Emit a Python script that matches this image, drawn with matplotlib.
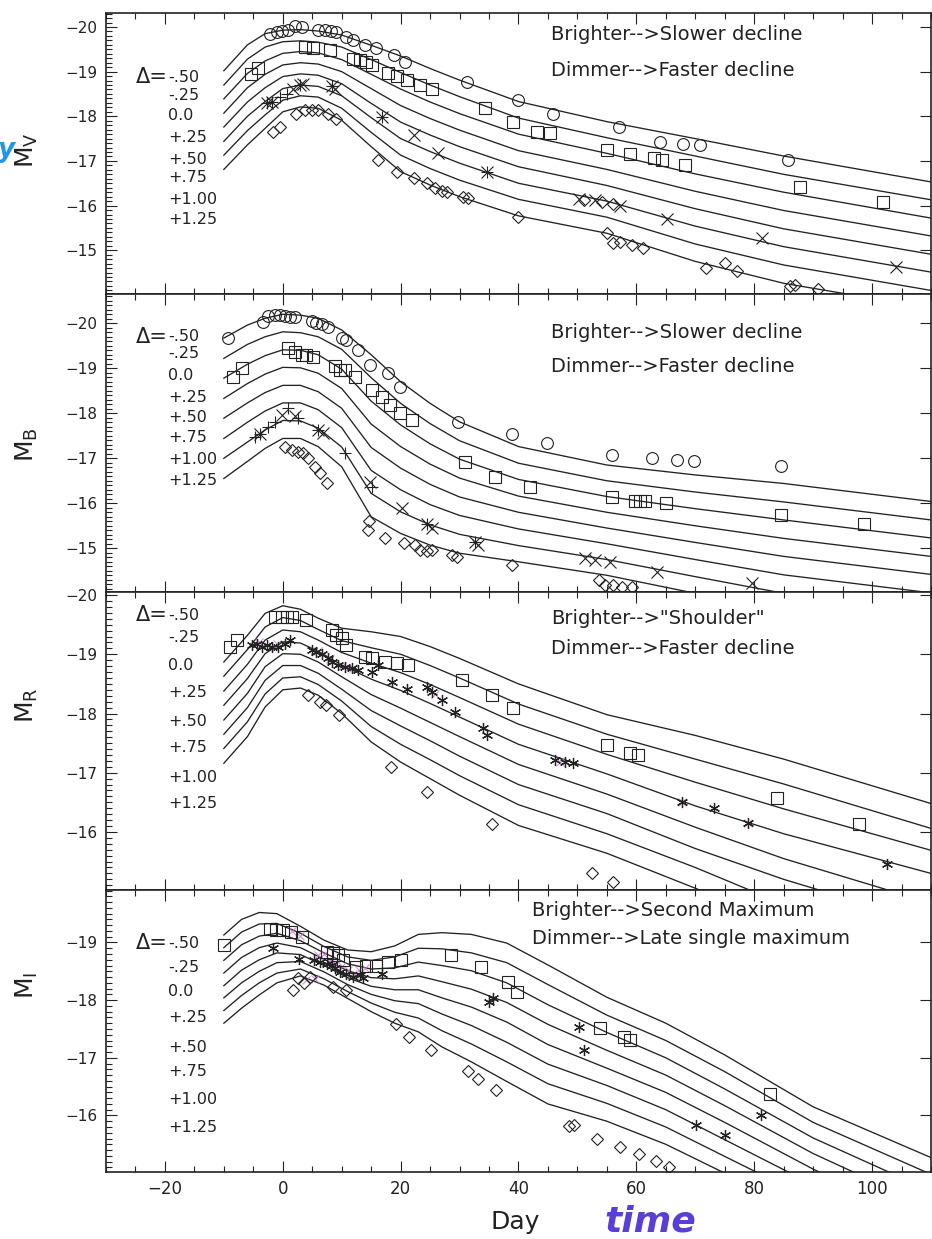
import matplotlib
matplotlib.use("Agg")
import matplotlib.pyplot as plt
from matplotlib.ticker import MultipleLocator

plt.rcParams["font.family"] = ["DejaVu Sans"]
plt.rcParams["axes.unicode_minus"] = True

W, H = 932, 1239
INK = "#222222"
DELTAS = ["-.50", "-.25", "0.0", "+.25", "+.50", "+.75", "+1.00", "+1.25"]

# ---------------- V band ----------------
v_days = [-10, -6, -3, 0, 3, 6, 10, 15, 20, 25, 30, 40, 55, 70, 85, 110]
v_curves = [
    [-19.02, -19.60, -19.85, -19.93, -19.94, -19.91, -19.82, -19.59, -19.35, -19.07, -18.81, -18.33, -17.88, -17.50, -17.11, -16.53],
    [-18.70, -19.28, -19.55, -19.67, -19.69, -19.66, -19.55, -19.27, -18.98, -18.70, -18.44, -17.96, -17.52, -17.11, -16.70, -16.13],
    [-18.39, -18.96, -19.24, -19.41, -19.45, -19.42, -19.27, -18.94, -18.61, -18.32, -18.06, -17.60, -17.17, -16.71, -16.30, -15.72],
    [-18.07, -18.64, -18.94, -19.15, -19.20, -19.17, -19.00, -18.62, -18.24, -17.95, -17.69, -17.23, -16.81, -16.32, -15.89, -15.32],
    [-17.76, -18.32, -18.64, -18.89, -18.95, -18.92, -18.73, -18.29, -17.87, -17.58, -17.32, -16.87, -16.45, -15.93, -15.48, -14.91],
    [-17.44, -18.00, -18.33, -18.62, -18.70, -18.67, -18.46, -17.97, -17.50, -17.21, -16.95, -16.50, -16.10, -15.54, -15.08, -14.51],
    [-17.13, -17.68, -18.03, -18.36, -18.46, -18.43, -18.18, -17.64, -17.13, -16.83, -16.57, -16.14, -15.74, -15.14, -14.67, -14.10],
    [-16.81, -17.36, -17.73, -18.10, -18.21, -18.18, -17.91, -17.32, -16.76, -16.46, -16.20, -15.77, -15.38, -14.75, -14.26, -13.70],
]
v_circ = [(-2.2, -19.85), (-1.0, -19.89), (-0.1, -19.91), (0.9, -19.94), (2.1, -20.02), (3.2, -20.00),
          (6.0, -19.94), (7.2, -19.93), (8.1, -19.91), (9.0, -19.88), (10.8, -19.78), (12.0, -19.70),
          (13.9, -19.59), (15.9, -19.52), (18.8, -19.37), (20.7, -19.22), (31.2, -18.77), (40.0, -18.36),
          (45.9, -18.06), (57.0, -17.76), (64.0, -17.43), (68.0, -17.39), (70.8, -17.35), (85.8, -17.02)]
v_sq = [(-5.4, -18.95), (-4.2, -19.08), (3.8, -19.55), (5.2, -19.52), (8.0, -19.48), (12.0, -19.29),
        (13.1, -19.27), (14.2, -19.22), (15.1, -19.15), (17.9, -18.96), (19.3, -18.90), (21.0, -18.81),
        (23.3, -18.70), (25.3, -18.62), (34.3, -18.18), (39.1, -17.88), (43.1, -17.65), (45.4, -17.62),
        (55.0, -17.24), (59.0, -17.15), (63.0, -17.06), (64.4, -17.02), (68.3, -16.91), (87.8, -16.41),
        (101.9, -16.09)]
v_x = [(-2.7, -18.29), (-1.9, -18.33), (1.8, -18.62), (2.9, -18.70), (3.5, -18.73), (8.3, -18.67),
       (8.8, -18.62), (16.8, -17.99), (22.2, -17.58), (26.4, -17.17), (34.6, -16.76), (50.2, -16.14),
       (53.0, -16.12), (57.2, -15.99), (65.2, -15.71), (81.3, -15.27), (104.0, -14.63)]
v_plus = [(-2.7, -18.29), (-1.9, -18.33), (-0.5, -18.44), (0.65, -18.51), (2.9, -18.70), (8.3, -18.67),
          (16.8, -17.99), (34.6, -16.76)]
v_dia = [(-1.6, -17.65), (-0.5, -17.77), (2.3, -18.06), (3.8, -18.15), (4.9, -18.14), (6.0, -18.14),
         (7.7, -18.06), (9.1, -17.95), (16.2, -17.02), (19.3, -16.76), (22.2, -16.61), (24.4, -16.50),
         (25.8, -16.39), (27.0, -16.33), (27.8, -16.31), (30.6, -16.20), (31.5, -16.16), (40.0, -15.75),
         (51.2, -16.13), (54.1, -16.09), (56.1, -16.04), (55.0, -15.38), (56.1, -15.17), (57.3, -15.19),
         (59.2, -15.12), (61.2, -15.04), (71.9, -14.60), (75.0, -14.71), (77.0, -14.54), (86.1, -14.19),
         (86.9, -14.22), (90.9, -14.13)]

# ---------------- B band ----------------
b_days = [-10, -6, -3, 0, 3, 6, 10, 15, 20, 25, 30, 40, 55, 70, 85, 110]
b_curves = [
    [-19.67, -19.96, -20.11, -20.20, -20.18, -20.11, -19.85, -19.30, -18.70, -18.22, -17.81, -17.26, -16.85, -16.63, -16.44, -16.04],
    [-19.22, -19.53, -19.70, -19.81, -19.79, -19.70, -19.42, -18.79, -18.22, -17.77, -17.39, -16.89, -16.50, -16.25, -16.03, -15.63],
    [-18.78, -19.09, -19.28, -19.41, -19.40, -19.30, -18.98, -18.27, -17.74, -17.32, -16.98, -16.53, -16.15, -15.88, -15.63, -15.23],
    [-18.33, -18.66, -18.87, -19.02, -19.01, -18.89, -18.55, -17.76, -17.26, -16.87, -16.56, -16.16, -15.80, -15.50, -15.22, -14.82],
    [-17.89, -18.23, -18.46, -18.62, -18.62, -18.48, -18.11, -17.24, -16.78, -16.42, -16.14, -15.80, -15.45, -15.13, -14.82, -14.42],
    [-17.44, -17.80, -18.05, -18.23, -18.23, -18.08, -17.68, -16.73, -16.30, -15.97, -15.73, -15.43, -15.10, -14.75, -14.41, -14.01],
    [-17.00, -17.36, -17.63, -17.84, -17.83, -17.67, -17.25, -16.22, -15.81, -15.52, -15.31, -15.06, -14.75, -14.37, -14.00, -13.60],
    [-16.55, -16.93, -17.22, -17.44, -17.44, -17.26, -16.81, -15.70, -15.33, -15.07, -14.89, -14.70, -14.40, -14.00, -13.60, -13.20],
]
b_circ = [(-9.25, -19.67), (-3.3, -20.02), (-2.5, -20.16), (-1.3, -20.18), (-0.5, -20.18), (0.4, -20.16),
          (1.2, -20.15), (2.1, -20.13), (4.9, -20.04), (5.7, -20.01), (6.6, -19.98), (7.7, -19.91),
          (10.0, -19.67), (10.8, -19.63), (12.8, -19.41), (14.8, -19.07), (17.9, -18.89), (19.9, -18.59),
          (29.8, -17.81), (38.9, -17.55), (44.8, -17.33), (55.8, -17.07), (62.7, -17.00), (66.9, -16.96),
          (69.8, -16.93), (84.6, -16.83)]
b_sq = [(-8.4, -18.81), (-7.0, -19.00), (0.9, -19.44), (2.1, -19.37), (3.2, -19.30), (4.0, -19.30),
        (5.2, -19.26), (8.9, -19.04), (9.7, -18.96), (10.6, -18.96), (12.3, -18.81), (15.1, -18.52),
        (16.8, -18.37), (18.2, -18.18), (19.9, -18.00), (21.9, -17.85), (30.9, -16.92), (36.0, -16.59),
        (41.9, -16.37), (55.8, -16.13), (59.7, -16.04), (60.6, -16.04), (61.5, -16.04), (65.0, -16.01),
        (84.6, -15.74), (98.7, -15.53)]
b_x = [(-3.9, -17.55), (-0.2, -17.96), (2.1, -17.93), (6.0, -17.63), (6.9, -17.56), (14.8, -16.48),
       (20.2, -15.89), (24.4, -15.55), (25.3, -15.44), (32.6, -15.15), (33.2, -15.08), (51.3, -14.78),
       (53.0, -14.74), (55.6, -14.70), (63.5, -14.48), (79.6, -14.22)]
b_plus = [(-4.7, -17.48), (-3.9, -17.55), (-2.5, -17.70), (-1.3, -17.81), (0.9, -18.11), (2.6, -17.89),
          (6.0, -17.63), (10.6, -17.11), (15.1, -16.37), (24.4, -15.55), (32.6, -15.15)]
b_dia = [(0.4, -17.26), (1.5, -17.19), (2.6, -17.15), (3.5, -17.11), (4.3, -17.00), (5.5, -16.81),
         (6.3, -16.67), (7.5, -16.44), (14.5, -15.41), (14.6, -15.60), (17.3, -15.22), (20.5, -15.11),
         (22.4, -15.07), (23.3, -14.96), (24.4, -14.93), (25.3, -14.96), (28.7, -14.85), (29.5, -14.81),
         (38.9, -14.63), (53.6, -14.30), (54.7, -14.19), (56.1, -14.19), (57.5, -14.15), (59.2, -14.15)]

# ---------------- R band ----------------
r_days = [-10, -6, -3, 0, 3, 6, 10, 15, 20, 25, 30, 40, 55, 70, 85, 110]
r_curves = [
    [-18.87, -19.32, -19.69, -19.82, -19.76, -19.61, -19.44, -19.38, -19.30, -19.13, -18.93, -18.50, -17.98, -17.63, -17.23, -16.48],
    [-18.63, -19.08, -19.46, -19.62, -19.57, -19.42, -19.23, -19.11, -19.00, -18.81, -18.60, -18.16, -17.65, -17.23, -16.81, -16.06],
    [-18.38, -18.83, -19.24, -19.41, -19.38, -19.24, -19.03, -18.85, -18.69, -18.49, -18.27, -17.82, -17.31, -16.84, -16.39, -15.69],
    [-18.14, -18.59, -19.01, -19.21, -19.19, -19.05, -18.82, -18.58, -18.39, -18.17, -17.94, -17.48, -16.98, -16.44, -15.97, -15.30],
    [-17.89, -18.34, -18.79, -19.01, -19.00, -18.87, -18.62, -18.32, -18.09, -17.85, -17.61, -17.14, -16.64, -16.08, -15.55, -14.80],
    [-17.65, -18.10, -18.56, -18.81, -18.81, -18.68, -18.41, -18.05, -17.79, -17.54, -17.28, -16.80, -16.31, -15.72, -15.20, -14.45],
    [-17.41, -17.86, -18.33, -18.60, -18.62, -18.49, -18.21, -17.78, -17.48, -17.22, -16.95, -16.46, -15.97, -15.40, -14.78, -14.05],
    [-17.16, -17.61, -18.11, -18.40, -18.43, -18.31, -18.00, -17.52, -17.18, -16.90, -16.62, -16.11, -15.64, -15.05, -14.45, -13.65],
]
r_sq = [(-9.0, -19.13), (-7.8, -19.24), (-1.3, -19.63), (-0.2, -19.63), (0.65, -19.63), (1.5, -19.63),
        (4.0, -19.58), (8.3, -19.41), (9.1, -19.32), (10.0, -19.27), (10.8, -19.16), (14.0, -18.96),
        (15.1, -18.93), (17.4, -18.87), (19.3, -18.85), (21.3, -18.82), (30.4, -18.56), (35.5, -18.31),
        (39.1, -18.09), (55.0, -17.47), (58.9, -17.33), (60.3, -17.30), (83.8, -16.58), (97.7, -16.14)]
r_ast = [(-5.3, -19.16), (-4.4, -19.18), (-3.6, -19.13), (-2.7, -19.16), (-1.9, -19.13), (-0.8, -19.13),
         (0.4, -19.18), (1.2, -19.24), (4.9, -19.07), (5.7, -19.04), (6.6, -19.01), (7.7, -18.93),
         (8.3, -18.87), (9.4, -18.82), (10.6, -18.79), (11.7, -18.77), (12.8, -18.73), (15.1, -18.70),
         (16.2, -18.82), (18.5, -18.54), (21.0, -18.42), (24.4, -18.45), (25.3, -18.37), (27.0, -18.23),
         (29.2, -18.03), (34.0, -17.75), (34.6, -17.64), (46.2, -17.21), (47.9, -17.18), (49.3, -17.16),
         (67.8, -16.51), (73.1, -16.41), (79.0, -16.15), (102.5, -15.46)]
r_dia = [(4.3, -18.31), (6.3, -18.20), (7.4, -18.15), (9.5, -17.97), (18.4, -17.10), (24.4, -16.67),
         (35.5, -16.13), (52.4, -15.30), (56.1, -15.16)]
r_tint = [(-4.0, -19.20), (-1.0, -19.18), (6.0, -19.05), (8.0, -18.92), (10.0, -18.80), (12.0, -18.76),
          (25.8, -18.33), (47.0, -17.18), (67.8, -16.51), (79.0, -16.15)]

# ---------------- I band ----------------
i_days = [-10, -7, -4, -1, 3, 7, 11, 15, 19, 23, 27, 32, 38, 45, 55, 65, 75, 90, 110]
i_curves = [
    [-19.13, -19.40, -19.52, -19.50, -19.28, -19.04, -18.87, -18.84, -18.94, -19.14, -19.17, -19.14, -18.99, -18.61, -18.05, -17.60, -17.05, -16.15, -15.27],
    [-18.91, -19.18, -19.32, -19.33, -19.16, -18.93, -18.75, -18.69, -18.75, -18.90, -18.89, -18.82, -18.65, -18.27, -17.74, -17.30, -16.76, -15.88, -14.98],
    [-18.69, -18.96, -19.11, -19.16, -19.03, -18.82, -18.63, -18.54, -18.56, -18.66, -18.60, -18.51, -18.30, -17.92, -17.44, -17.00, -16.46, -15.61, -14.69],
    [-18.47, -18.74, -18.91, -18.99, -18.91, -18.71, -18.51, -18.39, -18.37, -18.42, -18.32, -18.19, -17.96, -17.58, -17.13, -16.70, -16.17, -15.34, -14.40],
    [-18.25, -18.52, -18.70, -18.82, -18.79, -18.60, -18.39, -18.24, -18.18, -18.18, -18.04, -17.88, -17.62, -17.23, -16.82, -16.40, -15.88, -15.07, -14.11],
    [-18.04, -18.30, -18.50, -18.65, -18.67, -18.49, -18.27, -18.10, -17.99, -17.94, -17.76, -17.56, -17.27, -16.89, -16.52, -16.10, -15.58, -14.80, -13.82],
    [-17.82, -18.08, -18.30, -18.47, -18.54, -18.37, -18.15, -17.95, -17.79, -17.69, -17.47, -17.24, -16.93, -16.55, -16.21, -15.80, -15.29, -14.53, -13.53],
    [-17.60, -17.86, -18.09, -18.30, -18.42, -18.26, -18.03, -17.80, -17.60, -17.45, -17.19, -16.93, -16.59, -16.20, -15.90, -15.50, -15.00, -14.26, -13.24],
]
i_sq = [(-10.0, -18.95), (-2.2, -19.24), (-1.1, -19.22), (0.0, -19.21), (1.4, -19.18), (3.3, -19.10),
        (7.5, -18.84), (8.6, -18.81), (9.4, -18.78), (10.3, -18.69), (12.5, -18.58), (14.2, -18.59),
        (15.8, -18.59), (17.8, -18.66), (20.0, -18.69), (28.6, -18.78), (33.6, -18.58), (38.2, -18.32),
        (39.8, -18.14), (53.9, -17.51), (57.9, -17.36), (59.0, -17.31), (82.6, -16.38)]
i_ast = [(-1.7, -18.90), (2.8, -18.72), (5.3, -18.69), (6.4, -18.66), (7.5, -18.63), (8.3, -18.61),
         (8.9, -18.55), (9.7, -18.49), (10.8, -18.46), (11.9, -18.40), (13.1, -18.43), (13.6, -18.38),
         (16.9, -18.46), (35.0, -17.97), (35.6, -18.03), (50.2, -17.54), (51.1, -17.13), (70.1, -15.83),
         (75.1, -15.66), (81.2, -16.01)]
i_dia = [(1.7, -18.17), (2.5, -18.38), (3.6, -18.29), (4.7, -18.41), (8.6, -18.23), (10.8, -18.17),
         (19.2, -17.58), (21.4, -17.36), (25.2, -17.14), (31.4, -16.78), (33.1, -16.64), (36.1, -16.44),
         (48.5, -15.81), (49.4, -15.84), (53.3, -15.60), (57.3, -15.46), (60.5, -15.34), (63.3, -15.21),
         (65.6, -15.11)]
i_tint = [(1.5, -19.20), (3.0, -19.12), (4.0, -18.35), (5.5, -18.36), (6.0, -18.78), (7.0, -18.80),
          (8.0, -18.70), (9.0, -18.62), (10.0, -18.60), (11.0, -18.52), (12.0, -18.46), (13.0, -18.52),
          (14.0, -18.55)]

notes = [
    ["Brighter-->Slower decline", "Dimmer-->Faster decline"],
    ["Brighter-->Slower decline", "Dimmer-->Faster decline"],
    ["Brighter-->\"Shoulder\"", "Dimmer-->Faster decline"],
    ["Brighter-->Second Maximum", "Dimmer-->Late single maximum"],
]
ylabels = [r"$\mathregular{M_V}$", r"$\mathregular{M_B}$", r"$\mathregular{M_R}$", r"$\mathregular{M_I}$"]

# layout (pixels)
panel_px = [(12.7, 294), (294, 591.5), (591.5, 890), (890, 1172)]
ylims = [(-14.02, -20.32), (-14.04, -20.65), (-15.02, -20.06), (-15.02, -19.91)]
yticks = [[-20, -19, -18, -17, -16, -15], [-20, -19, -18, -17, -16, -15],
          [-20, -19, -18, -17, -16], [-19, -18, -17, -16]]
note_y = [(35, 70), (332, 367), (618, 648), (910, 939)]
note_x = [551, 551, 551, 532]
delta_y = [[77, 95, 115, 137, 159, 178, 200, 220],
           [337, 354, 375, 397, 418, 437, 460, 480],
           [615, 637, 665, 693, 722, 747, 777, 803],
           [943, 967, 992, 1018, 1048, 1072, 1100, 1127]]
ylabel_y = [150, 445, 705, 985]

bands = [
    dict(days=v_days, curves=v_curves, circ=v_circ, sq=v_sq, x=v_x, plus=v_plus, dia=v_dia),
    dict(days=b_days, curves=b_curves, circ=b_circ, sq=b_sq, x=b_x, plus=b_plus, dia=b_dia),
    dict(days=r_days, curves=r_curves, sq=r_sq, ast=r_ast, dia=r_dia, tint=r_tint),
    dict(days=i_days, curves=i_curves, sq=i_sq, ast=i_ast, dia=i_dia, tint=i_tint),
]

fig = plt.figure(figsize=(W / 100, H / 100), dpi=100)
L, R = 106, 931


def fx(px):
    return px / W


def fy(py):
    return 1 - py / H


def pts(lst):
    return [p[0] for p in lst], [p[1] for p in lst]


for k, band in enumerate(bands):
    top, bot = panel_px[k]
    ax = fig.add_axes([fx(L), fy(bot), (R - L) / W, (bot - top) / H])
    for row in band["curves"]:
        ax.plot(band["days"], row, color=INK, lw=0.95)
    mk = dict(ls="none", mfc="none", mec=INK)
    if "tint" in band:
        d, m = pts(band["tint"])
        ax.plot(d, m, marker="x", ms=6, mew=0.8, ls="none", color="#c77ac7", alpha=0.8)
    if "circ" in band:
        d, m = pts(band["circ"])
        ax.plot(d, m, marker="o", ms=8.5, mew=0.8, **mk)
    if "sq" in band:
        d, m = pts(band["sq"])
        ax.plot(d, m, marker="s", ms=8.5, mew=0.8, **mk)
    if "x" in band:
        d, m = pts(band["x"])
        ax.plot(d, m, marker="x", ms=8.5, mew=0.8, **mk)
    if "plus" in band:
        d, m = pts(band["plus"])
        ax.plot(d, m, marker="+", ms=9, mew=0.8, **mk)
    if "ast" in band:
        d, m = pts(band["ast"])
        ax.plot(d, m, marker=(6, 2, 0), ms=8, mew=0.9, **mk)
    if "dia" in band:
        d, m = pts(band["dia"])
        ax.plot(d, m, marker="D", ms=6, mew=0.8, **mk)

    ax.set_xlim(-30, 110)
    ax.set_ylim(*ylims[k])
    ax.set_yticks(yticks[k])
    ax.set_yticklabels(["\u2212%d" % abs(t) for t in yticks[k]], fontsize=11, color=INK)
    ax.yaxis.set_minor_locator(MultipleLocator(0.1))
    ax.xaxis.set_major_locator(MultipleLocator(20))
    ax.xaxis.set_minor_locator(MultipleLocator(5))
    ax.tick_params(which="both", direction="in", top=True, right=True, colors=INK, width=0.8)
    ax.tick_params(which="major", length=8, pad=6)
    ax.tick_params(which="minor", length=4)
    ax.tick_params(axis="y", which="minor", right=False)
    for s in ax.spines.values():
        s.set_linewidth(1.2)
        s.set_color(INK)
    if k < 3:
        ax.set_xticklabels([])
    else:
        ax.set_xticks([-20, 0, 20, 40, 60, 80, 100])
        ax.set_xticklabels(["\u221220", "0", "20", "40", "60", "80", "100"], fontsize=12, color=INK)

    for line, yy in zip(notes[k], note_y[k]):
        fig.text(fx(note_x[k]), fy(yy), line, fontsize=14, color=INK, ha="left", va="center")
    fig.text(fx(168), fy(delta_y[k][0]), "\u0394=", fontsize=15, color=INK, ha="right", va="center")
    for lab, yy in zip(DELTAS, delta_y[k]):
        fig.text(fx(168), fy(yy), lab, fontsize=11.5, color=INK, ha="left", va="center")
    fig.text(fx(27), fy(ylabel_y[k]), ylabels[k], fontsize=18, rotation=90, color=INK,
             ha="center", va="center")

fig.text(fx(515), fy(1222), "Day", fontsize=18, color=INK, ha="center", va="center")
fig.text(fx(650), fy(1222), "time", fontsize=26, color="#5a3fd6", ha="center", va="center",
         fontstyle="italic", fontweight="bold")
fig.text(fx(7), fy(150), "y", fontsize=19, color="#2196e8", ha="center", va="center",
         fontstyle="italic", fontweight="bold")

fig.savefig("out.png", dpi=100)
